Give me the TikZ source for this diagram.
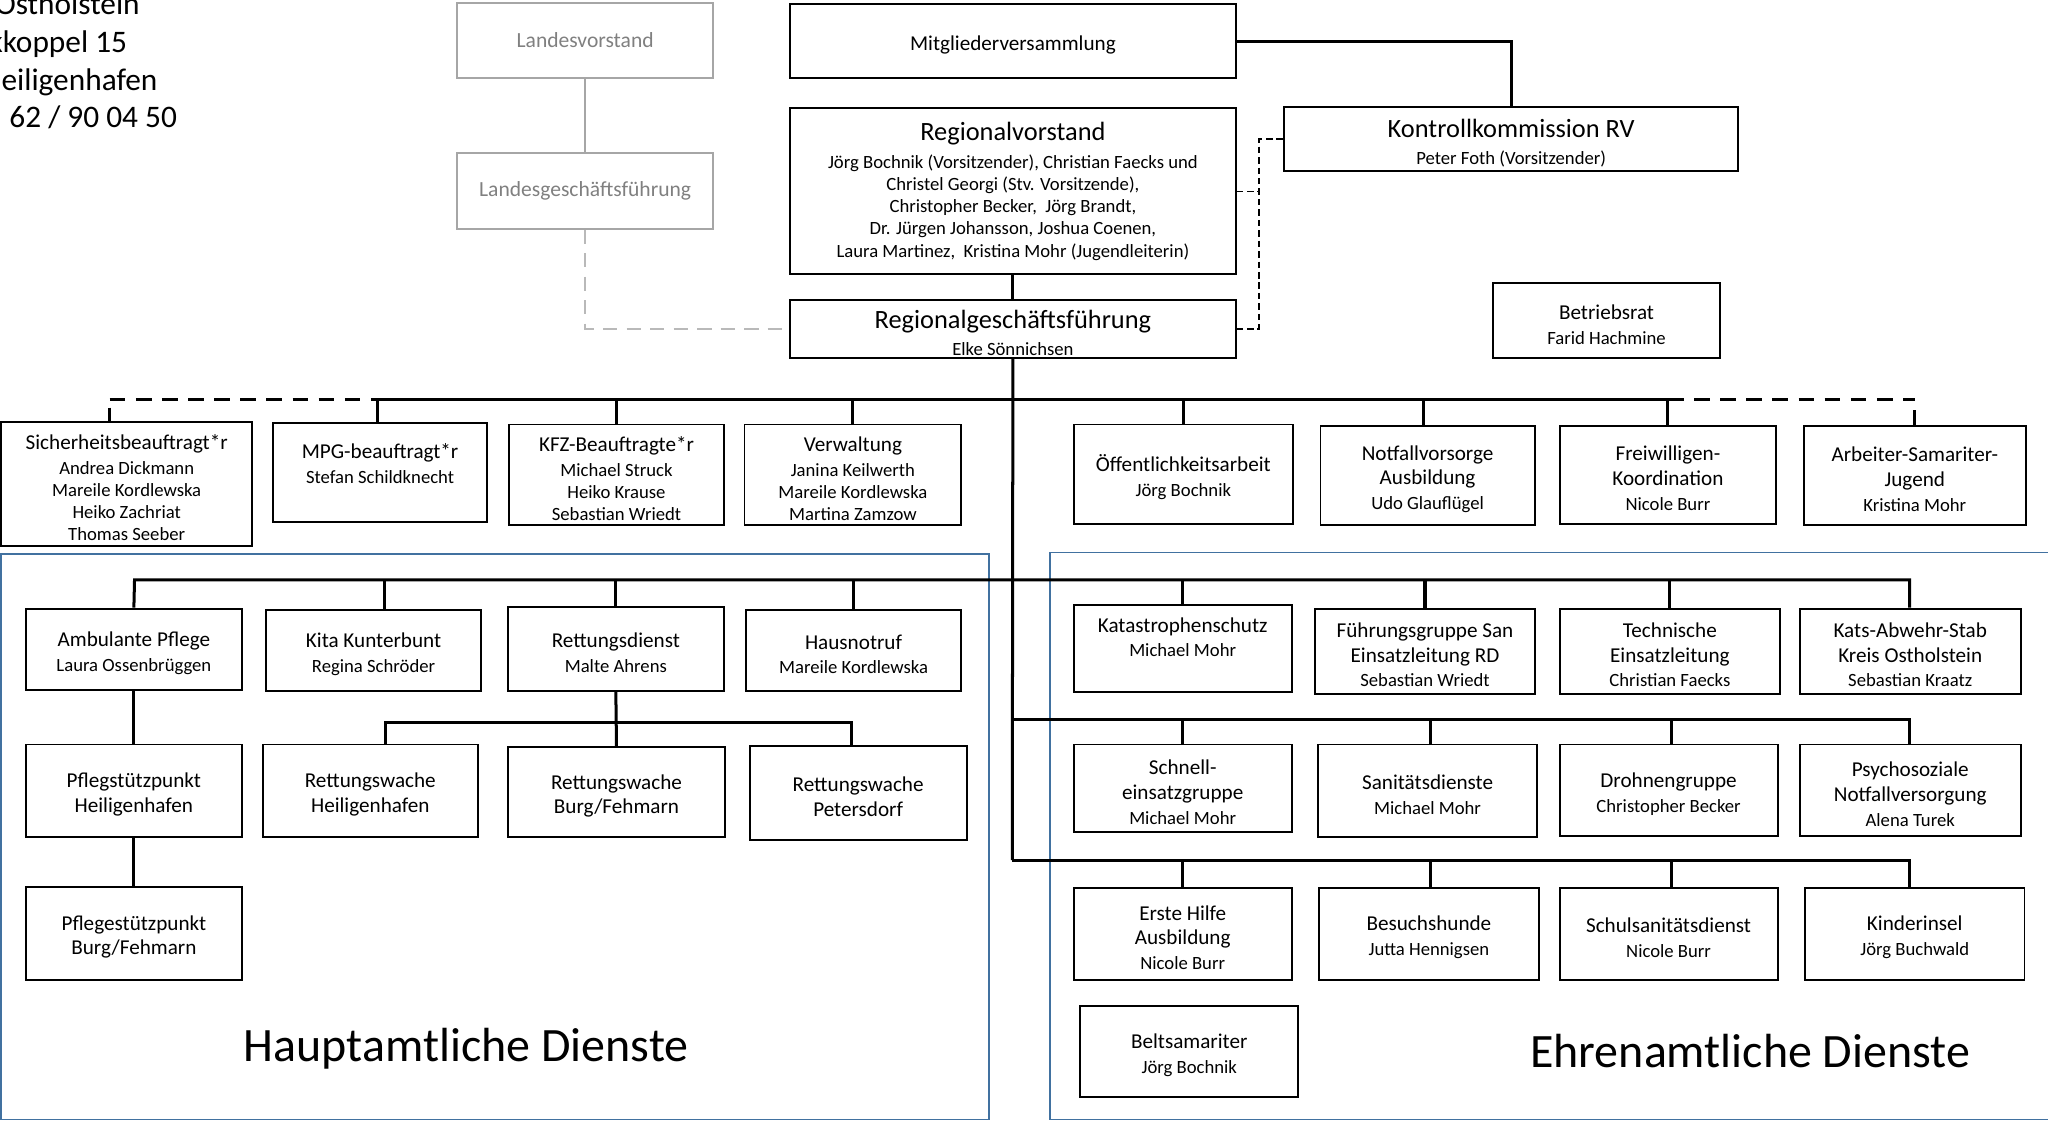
\documentclass[tikz,border=0pt]{standalone}
\usepackage{fontspec}
\setmainfont{Carlito}
\definecolor{lgray}{RGB}{166,166,166}
\definecolor{dgray}{RGB}{185,185,185}
\definecolor{tgray}{RGB}{128,128,128}
\definecolor{fblue}{RGB}{65,113,160}
\newcommand\tN{\fontsize{16.2}{19}\selectfont}
\newcommand\tA{\tN\rule{0pt}{17pt}}
\newcommand\tBn{\fontsize{20.2}{24}\selectfont}
\newcommand\tB{\tBn\rule{0pt}{20pt}}
\tikzset{
  box/.style={draw=black, line width=1.5pt, align=center, inner sep=2pt, fill=white,
    font=\fontsize{14.3}{17}\selectfont},
  gbox/.style={draw=lgray, line width=1.5pt, align=center, text=tgray, fill=white,
    font=\fontsize{16.5}{19}\selectfont},
  sz/.style 2 args={minimum width=#1pt, minimum height=#2pt},
  conn/.style={line width=2.3pt},
  gconn/.style={line width=2pt, draw=lgray},
  gdash/.style={line width=2pt, draw=dgray, dash pattern=on 11pt off 7pt},
  bdash/.style={line width=2.3pt, dash pattern=on 12pt off 8pt},
  tdash/.style={line width=1.2pt, dash pattern=on 5pt off 3pt},
  frame/.style={line width=1.3pt, draw=fblue},
  addr/.style={anchor=base west, inner sep=0pt, font=\fontsize{24}{29}\selectfont},
  biglbl/.style={inner sep=0pt, font=\fontsize{36.7}{42}\selectfont},
}
\begin{document}
\begin{tikzpicture}[x=1pt,y=-1pt]
\useasboundingbox (0,0) rectangle (1568,858);

% blue frames
\draw[frame] (1,424) rectangle (757,857);
\draw[frame] (804,423) rectangle (1575,857);

% address
\node[addr] (a1) at (-4,11) {Ostholstein};
\node[addr] (a2) at (-9,40) {kkoppel 15};
\node[addr] (a3) at (1,69) {eiligenhafen};
\node[addr] (a4) at (7,98) {62 / 90 04 50};

% top boxes
\node[gbox, sz={196}{58}] (LV) at (448,31) {Landesvorstand};
\node[gbox, sz={196}{58}] (LG) at (448,146) {Landesgeschäftsführung};
\node[box, sz={341}{57}] (MV) at (775.5,31.5) {{\tA Mitgliederversammlung}};
\node[box, sz={341}{127}] (RV) at (775.5,146.5) {{\tBn Regionalvorstand}\\[4pt]
  Jörg Bochnik (Vorsitzender), Christian Faecks und\\
  Christel Georgi (Stv. Vorsitzende),\\
  Christopher Becker,\ \ Jörg Brandt,\\
  Dr. Jürgen Johansson, Joshua Coenen,\\
  Laura Martinez,\ \ Kristina Mohr (Jugendleiterin)};
\node[box, sz={348}{49}] (KK) at (1157,106.5) {{\tB Kontrollkommission RV}\\[4pt]Peter Foth (Vorsitzender)};
\node[box, sz={341}{44}, inner sep=0pt] (RGF) at (775.5,252) {{\tB Regionalgeschäftsführung}\\[4pt]Elke Sönnichsen};
\node[box, sz={174}{57}] (BR) at (1230,245.5) {{\tA Betriebsrat}\\[2pt]Farid Hachmine};

% row 1
\node[box, sz={192}{95}] (SB) at (97,370.5) {{\tA Sicherheitsbeauftragt*r}\\[2pt]Andrea Dickmann\\Mareile Kordlewska\\Heiko Zachriat\\Thomas Seeber};
\node[box, sz={164}{76}] (MPG) at (291,362) {{\tA MPG-beauftragt*r}\\[2pt]Stefan Schildknecht\\[3pt]};
\node[box, sz={164}{77}] (KFZ) at (472,363.5) {{\tA KFZ-Beauftragte*r}\\[2pt]Michael Struck\\Heiko Krause\\Sebastian Wriedt};
\node[box, sz={166}{77}] (VW) at (653,363.5) {{\tA Verwaltung}\\[2pt]Janina Keilwerth\\Mareile Kordlewska\\Martina Zamzow};
\node[box, sz={168}{76}] (OA) at (906,363) {{\tA Öffentlichkeitsarbeit}\\[2pt]Jörg Bochnik};
\node[box, sz={164}{76}] (NV) at (1093,364) {{\tA Notfallvorsorge}\\[2pt]{\tN Ausbildung}\\[2pt]Udo Glauflügel};
\node[box, sz={166}{75}] (FK) at (1277,363.5) {{\tA Freiwilligen-}\\[2pt]{\tN Koordination}\\[2pt]Nicole Burr};
\node[box, sz={170}{76}] (ASJ) at (1466,364) {{\tA Arbeiter-Samariter-}\\[2pt]{\tN Jugend}\\[2pt]Kristina Mohr};

% Hauptamt
\node[box, sz={165}{62}] (AP) at (102.5,497) {{\tA Ambulante Pflege}\\[2pt]Laura Ossenbrüggen};
\node[box, sz={164}{62}] (KT) at (286,498) {{\tA Kita Kunterbunt}\\[2pt]Regina Schröder};
\node[box, sz={165}{64}] (RD) at (471.5,497) {{\tA Rettungsdienst}\\[2pt]Malte Ahrens};
\node[box, sz={165}{62}] (HN) at (653.5,498) {{\tA Hausnotruf}\\[2pt]Mareile Kordlewska};
\node[box, sz={165}{71}] (PH) at (102.5,605.5) {{\tA Pflegstützpunkt}\\[2pt]{\tN Heiligenhafen}};
\node[box, sz={165}{71}] (PB) at (102.5,714.5) {{\tA Pflegestützpunkt}\\[2pt]{\tN Burg/Fehmarn}};
\node[box, sz={165}{71}] (RWH) at (283.5,605.5) {{\tA Rettungswache}\\[2pt]{\tN Heiligenhafen}};
\node[box, sz={166}{69}] (RWB) at (472,606.5) {{\tA Rettungswache}\\[2pt]{\tN Burg/Fehmarn}};
\node[box, sz={166}{72}] (RWP) at (657,607) {{\tA Rettungswache}\\[2pt]{\tN Petersdorf}};

% Ehrenamt row 1
\node[box, sz={167}{67}] (KS) at (905.5,496.5) {{\tA Katastrophenschutz}\\[2pt]Michael Mohr\\[6pt]};
\node[box, sz={168}{65}] (FG) at (1091,498.5) {{\tA Führungsgruppe San}\\[2pt]{\tN Einsatzleitung RD}\\[2pt]Sebastian Wriedt};
\node[box, sz={169}{65}] (TE) at (1278.5,498.5) {{\tA Technische}\\[2pt]{\tN Einsatzleitung}\\[2pt]Christian Faecks};
\node[box, sz={169}{65}] (KA) at (1462.5,498.5) {{\tA Kats-Abwehr-Stab}\\[2pt]{\tN Kreis Ostholstein}\\[2pt]Sebastian Kraatz};
% row 2
\node[box, sz={167}{67}] (SE) at (905.5,603.5) {{\tA Schnell-}\\[2pt]{\tN einsatzgruppe}\\[2pt]Michael Mohr};
\node[box, sz={168}{71}] (SD) at (1093,605.5) {{\tA Sanitätsdienste}\\[2pt]Michael Mohr};
\node[box, sz={167}{70}] (DG) at (1277.5,605) {{\tA Drohnengruppe}\\[2pt]Christopher Becker};
\node[box, sz={169}{70}] (PS) at (1462.5,605) {{\tA Psychosoziale}\\[2pt]{\tN Notfallversorgung}\\[2pt]Alena Turek};
% row 3
\node[box, sz={167}{70}] (EH) at (905.5,715) {{\tA Erste Hilfe}\\[2pt]{\tN Ausbildung}\\[2pt]Nicole Burr};
\node[box, sz={168}{70}] (BH) at (1094,715) {{\tA Besuchshunde}\\[2pt]Jutta Hennigsen};
\node[box, sz={167}{70}] (SS) at (1277.5,715) {{\tA Schulsanitätsdienst}\\[2pt]Nicole Burr};
\node[box, sz={168}{70}] (KI) at (1466,715) {{\tA Kinderinsel}\\[2pt]Jörg Buchwald};
\node[box, sz={167}{70}] (BS) at (910.5,805) {{\tA Beltsamariter}\\[2pt]Jörg Bochnik};

% labels
\node[biglbl] (LH) at (357,803) {Hauptamtliche Dienste};
\node[biglbl] (LE) at (1340,805) {Ehrenamtliche Dienste};

% ---- connectors ----
\draw[gconn] (LV) -- (LG);
\draw[gdash] (LG.south) |- (RGF.west);
\draw[conn] (MV.east) -| (KK.north);
\draw[conn] (RV) -- (RGF);
\coordinate (dk) at (964,0);
\draw[tdash] (KK.west) -- (KK.west -| dk) -- (RGF.east -| dk) -- (RGF.east);
\draw[tdash] (RV.east) -- (RV.east -| dk);

% trunk
\coordinate (t4) at (775,658.5);
\draw[conn] (RGF.south) -- (t4);

% bus 1
\coordinate (b1a) at (84,306);
\coordinate (b1b) at (289,306);
\coordinate (b1c) at (1277,306);
\coordinate (b1d) at (1466,306);
\draw[conn] (b1b) -- (b1c);
\draw[bdash] (b1a) -- (b1b);
\draw[bdash] (b1c) -- (b1d);
\draw[conn] (84,312) -- (b1a |- SB.north);
\draw[conn] (1466,314) -- (b1d |- ASJ.north);
\draw[conn] (b1b) -- (b1b |- MPG.north);
\draw[conn] (KFZ.north |- b1b) -- (KFZ.north);
\draw[conn] (VW.north |- b1b) -- (VW.north);
\draw[conn] (OA.north |- b1b) -- (OA.north);
\draw[conn] (1090,306) -- (1090,0 |- NV.north);
\draw[conn] (b1c) -- (b1c |- FK.north);

% bus 2
\coordinate (b2a) at (103,444);
\coordinate (b2b) at (1462,444);
\coordinate (kd) at (294,444);
\draw[conn] (AP.north) -- (b2a) -- (b2b) -- (b2b |- KA.north);
\draw[conn] (kd) -- (kd |- KT.north);
\draw[conn] (RD.north |- b2a) -- (RD.north);
\draw[conn] (HN.north |- b2a) -- (HN.north);
\draw[conn] (KS.north |- b2a) -- (KS.north);
\draw[conn] (FG.north |- b2a) -- (FG.north);
\draw[conn] (TE.north |- b2a) -- (TE.north);

% bus 3
\coordinate (b3a) at (775,551);
\coordinate (b3b) at (1462,551);
\draw[conn] (b3a) -- (b3b) -- (b3b |- PS.north);
\draw[conn] (SE.north |- b3a) -- (SE.north);
\draw[conn] (1095,551) -- (1095,0 |- SD.north);
\draw[conn] (1280,551) -- (1280,0 |- DG.north);

% bus 4
\coordinate (b4b) at (1462,658.5);
\draw[conn] (t4) -- (b4b) -- (b4b |- KI.north);
\draw[conn] (EH.north |- t4) -- (EH.north);
\draw[conn] (1095,658.5) -- (1095,0 |- BH.north);
\draw[conn] (1280,658.5) -- (1280,0 |- SS.north);

% Hauptamt subtree
\draw[conn] (AP) -- (PH);
\draw[conn] (PH) -- (PB);
\coordinate (rwl) at (295,553.5);
\coordinate (rwr) at (652,553.5);
\draw[conn] (rwl |- RWH.north) -- (rwl) -- (rwr) -- (rwr |- RWP.north);
\draw[conn] (RD.south) -- (RWB.north);
\end{tikzpicture}
\end{document}
